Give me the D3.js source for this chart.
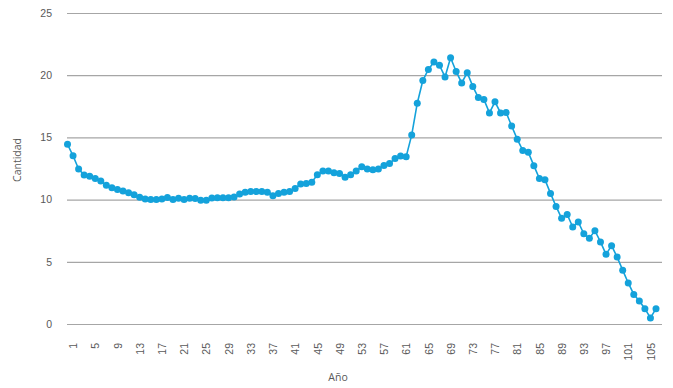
<!DOCTYPE html>
<html>
<head>
<meta charset="utf-8">
<script src="https://cdn.jsdelivr.net/npm/d3@7"></script>
<style>
  body { margin: 0; background: #fff; }
  svg { display: block; font-family: "Open Sans", sans-serif; }
  .tick text { fill: #595959; font-size: 10.5px; }
  .grid line { stroke: #a6a6a6; stroke-width: 1.2; }
</style>
</head>
<body>
<svg width="673" height="388"></svg>
<script>
// edades 0..106 (las etiquetas empiezan en 1)
var years = d3.range(0, 107);
var cantidad = [
  14.45, 13.52, 12.45, 11.98, 11.87, 11.7, 11.5, 11.15, 10.96, 10.82,
  10.69, 10.55, 10.38, 10.19, 10.05, 10.0, 10.0, 10.05, 10.16, 10.0,
  10.1, 10.0, 10.1, 10.08, 9.95, 9.95, 10.12, 10.15, 10.15, 10.15,
  10.2, 10.45, 10.6, 10.65, 10.65, 10.65, 10.6, 10.3, 10.5, 10.6,
  10.65, 10.9, 11.25, 11.3, 11.4, 12.0, 12.3, 12.3, 12.15, 12.1,
  11.8, 12.0, 12.3, 12.65, 12.45, 12.4, 12.45, 12.75, 12.9, 13.3,
  13.5, 13.45, 15.2, 17.75, 19.57, 20.46, 21.06, 20.8, 19.86, 21.4,
  20.3, 19.38, 20.2, 19.1, 18.2, 18.05, 16.97, 17.86, 16.97, 17.0,
  15.92, 14.86, 13.95, 13.8, 12.73, 11.7, 11.6, 10.5, 9.45, 8.5,
  8.8, 7.8, 8.2, 7.25, 6.9, 7.5, 6.6, 5.6, 6.3, 5.38,
  4.33, 3.3, 2.38, 1.84, 1.23, 0.48, 1.23
];
var xTicks = d3.range(1, 106, 4);
var yTicks = [0, 5, 10, 15, 20, 25];

var svg = d3.select("svg");
var color = "#14a2db";

// área del gráfico
var plotLeft = 67, plotRight = 662, plotTop = 13, plotBottom = 324;

var x = d3.scaleLinear().domain([0, 106]).range([67.5, 656]);
var y = d3.scaleLinear().domain([0, 25]).range([plotBottom, plotTop]);

var data = years.map(function(d, i) { return {year: d, value: cantidad[i]}; });

// líneas de cuadrícula + etiquetas eje y
svg.append("g")
    .attr("class", "grid")
    .attr("transform", "translate(" + plotLeft + ",0)")
    .call(d3.axisLeft(y).tickValues(yTicks).tickSize(-(plotRight - plotLeft)).tickPadding(15))
    .call(function(g) { g.select(".domain").remove(); });

// eje x
svg.append("g")
    .attr("transform", "translate(0," + plotBottom + ")")
    .call(d3.axisBottom(x).tickValues(xTicks).tickSize(0))
    .call(function(g) { g.select(".domain").remove(); })
    .selectAll("text")
    .attr("transform", "rotate(-90)")
    .attr("x", -19)
    .attr("y", 0)
    .attr("dy", "0.35em")
    .style("text-anchor", "end");

// línea
svg.append("path")
    .datum(data)
    .attr("fill", "none")
    .attr("stroke", color)
    .attr("stroke-width", 1.6)
    .attr("d", d3.line()
      .x(function(d) { return x(d.year); })
      .y(function(d) { return y(d.value); }));

// puntos
svg.append("g")
    .selectAll("circle")
    .data(data)
    .enter()
    .append("circle")
    .attr("cx", function(d) { return x(d.year); })
    .attr("cy", function(d) { return y(d.value); })
    .attr("r", 3.5)
    .attr("fill", color);

// títulos de ejes
svg.append("text")
    .attr("x", 338)
    .attr("y", 381)
    .attr("text-anchor", "middle")
    .attr("fill", "#595959")
    .style("font-size", "10.5px")
    .text("Año");

svg.append("text")
    .attr("transform", "translate(21,160) rotate(-90)")
    .attr("text-anchor", "middle")
    .attr("fill", "#595959")
    .style("font-size", "10.5px")
    .text("Cantidad");
</script>
</body>
</html>
